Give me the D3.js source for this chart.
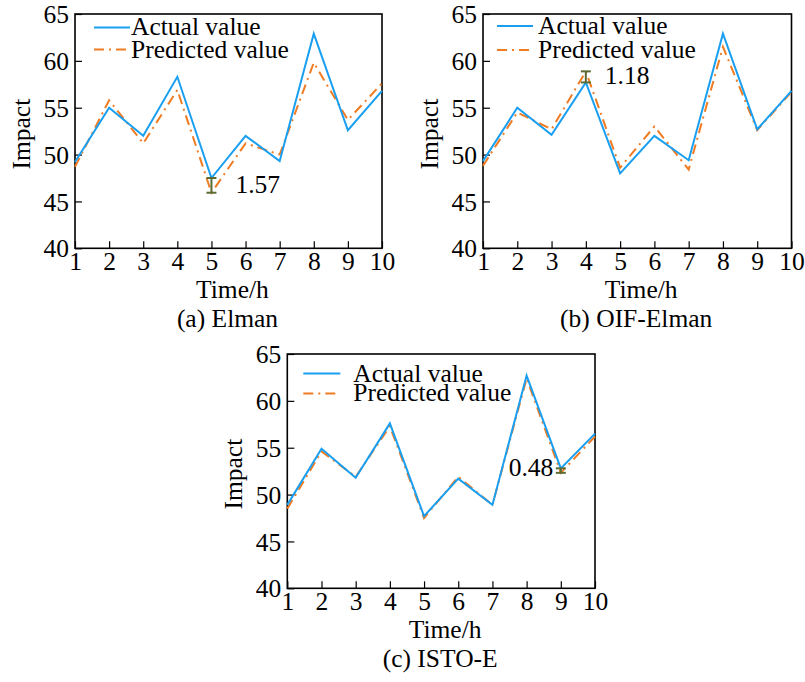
<!DOCTYPE html>
<html>
<head>
<meta charset="utf-8">
<script src="https://cdn.jsdelivr.net/npm/d3@7"></script>
<style>
  html, body { margin: 0; padding: 0; background: #fff; }
  svg { display: block; }
  text { font-family: "Liberation Serif", "Times New Roman", serif; fill: #000; }
</style>
</head>
<body>
<svg id="chart" width="805" height="682"></svg>
<script>
// ---------------- DATA ----------------
const hours = [1, 2, 3, 4, 5, 6, 7, 8, 9, 10];
const yTickValues = [40, 45, 50, 55, 60, 65];
const xTickValues = [1, 2, 3, 4, 5, 6, 7, 8, 9, 10];

const actualElman     = [49.2, 55.0, 52.0, 58.3, 47.5, 52.0, 49.3, 62.9, 52.6, 56.8];
const predictedElman  = [48.7, 55.8, 51.2, 56.9, 45.93, 51.2, 50.0, 59.8, 53.7, 57.6];

const actualOIF       = [49.3, 55.0, 52.1, 57.7, 48.0, 52.0, 49.4, 62.9, 52.7, 56.8];
const predictedOIF    = [48.8, 54.5, 52.7, 58.88, 48.6, 53.0, 48.4, 61.5, 52.6, 56.7];

const actualISTO      = [48.9, 54.9, 51.8, 57.6, 47.7, 51.7, 48.9, 62.7, 52.8, 56.5];
const predictedISTO   = [48.5, 54.6, 51.9, 57.3, 47.5, 51.9, 48.9, 62.4, 52.32, 56.2];

const seriesNames = ["Actual value", "Predicted value"];
const captions = ["(a) Elman", "(b) OIF-Elman", "(c) ISTO-E"];
const errorHours = [5, 4, 9];
const errorLabels = ["1.57", "1.18", "0.48"];

// ---------------- STYLE / LAYOUT ----------------
const BLUE = "#1a9ff0";
const ORANGE = "#ef7b22";
const ERR = "#5b6b34";
const FS = 25.5;

const panels = [
  { x0: 75,    x1: 382,   y0: 14,  y1: 248.3, actual: actualElman, predicted: predictedElman,
    leg: { lx0: 19, lx1: 55, tx: 56, y1: 13.5, t1: 21, y2: 35.5, t2: 43.5 },
    err: { dx: 24, dy: 0, anchor: "start", at: "low" } },
  { x0: 483,   x1: 791.5, y0: 14,  y1: 248.3, actual: actualOIF, predicted: predictedOIF,
    leg: { lx0: 14, lx1: 50, tx: 55, y1: 12, t1: 20, y2: 36, t2: 43.5 },
    err: { dx: 19, dy: 2, anchor: "start", at: "low" } },
  { x0: 287.3, x1: 595,   y0: 354, y1: 588.3, actual: actualISTO, predicted: predictedISTO,
    leg: { lx0: 16, lx1: 53, tx: 66, y1: 19.5, t1: 27.5, y2: 39.5, t2: 47 },
    err: { dx: -7.5, dy: 5, anchor: "end", at: "mid" } }
];

const svg = d3.select("#chart");

panels.forEach((p, i) => {
  const w = p.x1 - p.x0, h = p.y1 - p.y0;
  const g = svg.append("g").attr("transform", `translate(${p.x0},${p.y0})`);
  const x = d3.scaleLinear().domain([1, 10]).range([0, w]);
  const y = d3.scaleLinear().domain([40, 65]).range([h, 0]);

  // axes (inward ticks)
  const xAxis = d3.axisBottom(x).tickValues(xTickValues).tickFormat(d3.format("d"))
    .tickSizeInner(-7).tickSizeOuter(0).tickPadding(5);
  const yAxis = d3.axisLeft(y).tickValues(yTickValues).tickFormat(d3.format("d"))
    .tickSizeInner(-7).tickSizeOuter(0).tickPadding(6);

  const gx = g.append("g").attr("transform", `translate(0,${h})`).call(xAxis);
  const gy = g.append("g").call(yAxis);
  [gx, gy].forEach(ax => {
    ax.select(".domain").remove();
    ax.selectAll(".tick line").attr("stroke", "#000").attr("stroke-width", 1.2);
    ax.selectAll(".tick text").style("font-size", FS + "px")
      .style("font-family", '"Liberation Serif", serif').attr("fill", "#000");
  });
  gx.selectAll(".tick text").attr("dy", "0.71em").attr("y", 4);
  gy.selectAll(".tick text").attr("dy", "0.34em");

  // box
  g.append("rect").attr("x", 0).attr("y", 0).attr("width", w).attr("height", h)
    .attr("fill", "none").attr("stroke", "#000").attr("stroke-width", 1.6);

  const line = d3.line().x((d, k) => x(hours[k])).y(d => y(d));

  g.append("path").datum(p.predicted).attr("d", line)
    .attr("fill", "none").attr("stroke", ORANGE).attr("stroke-width", 2)
    .attr("stroke-dasharray", "10,5,2,5");
  g.append("path").datum(p.actual).attr("d", line)
    .attr("fill", "none").attr("stroke", BLUE).attr("stroke-width", 2);

  // error bar
  const eh = errorHours[i];
  const k = hours.indexOf(eh);
  const ya = y(p.actual[k]), yp = y(p.predicted[k]);
  const ex = x(eh);
  const eg = g.append("g").attr("stroke", ERR).attr("stroke-width", 2);
  eg.append("line").attr("x1", ex).attr("x2", ex).attr("y1", ya).attr("y2", yp);
  [ya, yp].forEach(yy => eg.append("line").attr("x1", ex - 5).attr("x2", ex + 5).attr("y1", yy).attr("y2", yy));
  const yLow = Math.max(ya, yp), yMid = (ya + yp) / 2;
  g.append("text").attr("x", ex + p.err.dx).attr("y", (p.err.at === "low" ? yLow : yMid) + p.err.dy)
    .attr("text-anchor", p.err.anchor).style("font-size", FS + "px").text(errorLabels[i]);

  // legend
  const L = p.leg;
  g.append("line").attr("x1", L.lx0).attr("x2", L.lx1).attr("y1", L.y1).attr("y2", L.y1)
    .attr("stroke", BLUE).attr("stroke-width", 2);
  g.append("text").attr("x", L.tx).attr("y", L.t1).style("font-size", FS + "px").text(seriesNames[0]);
  g.append("line").attr("x1", L.lx0).attr("x2", L.lx1).attr("y1", L.y2).attr("y2", L.y2)
    .attr("stroke", ORANGE).attr("stroke-width", 2).attr("stroke-dasharray", "10,5,2,5");
  g.append("text").attr("x", L.tx).attr("y", L.t2).style("font-size", FS + "px").text(seriesNames[1]);

  // axis titles
  g.append("text").attr("transform", `translate(${-45},${h / 2 + 3}) rotate(-90)`)
    .attr("text-anchor", "middle").style("font-size", FS + "px").text("Impact");
  g.append("text").attr("x", w / 2 + 4).attr("y", h + 49.5)
    .attr("text-anchor", "middle").style("font-size", FS + "px").text("Time/h");
  g.append("text").attr("x", w / 2 - 1).attr("y", h + 78.5)
    .attr("text-anchor", "middle").style("font-size", FS + "px").text(captions[i]);
});
</script>
</body>
</html>
